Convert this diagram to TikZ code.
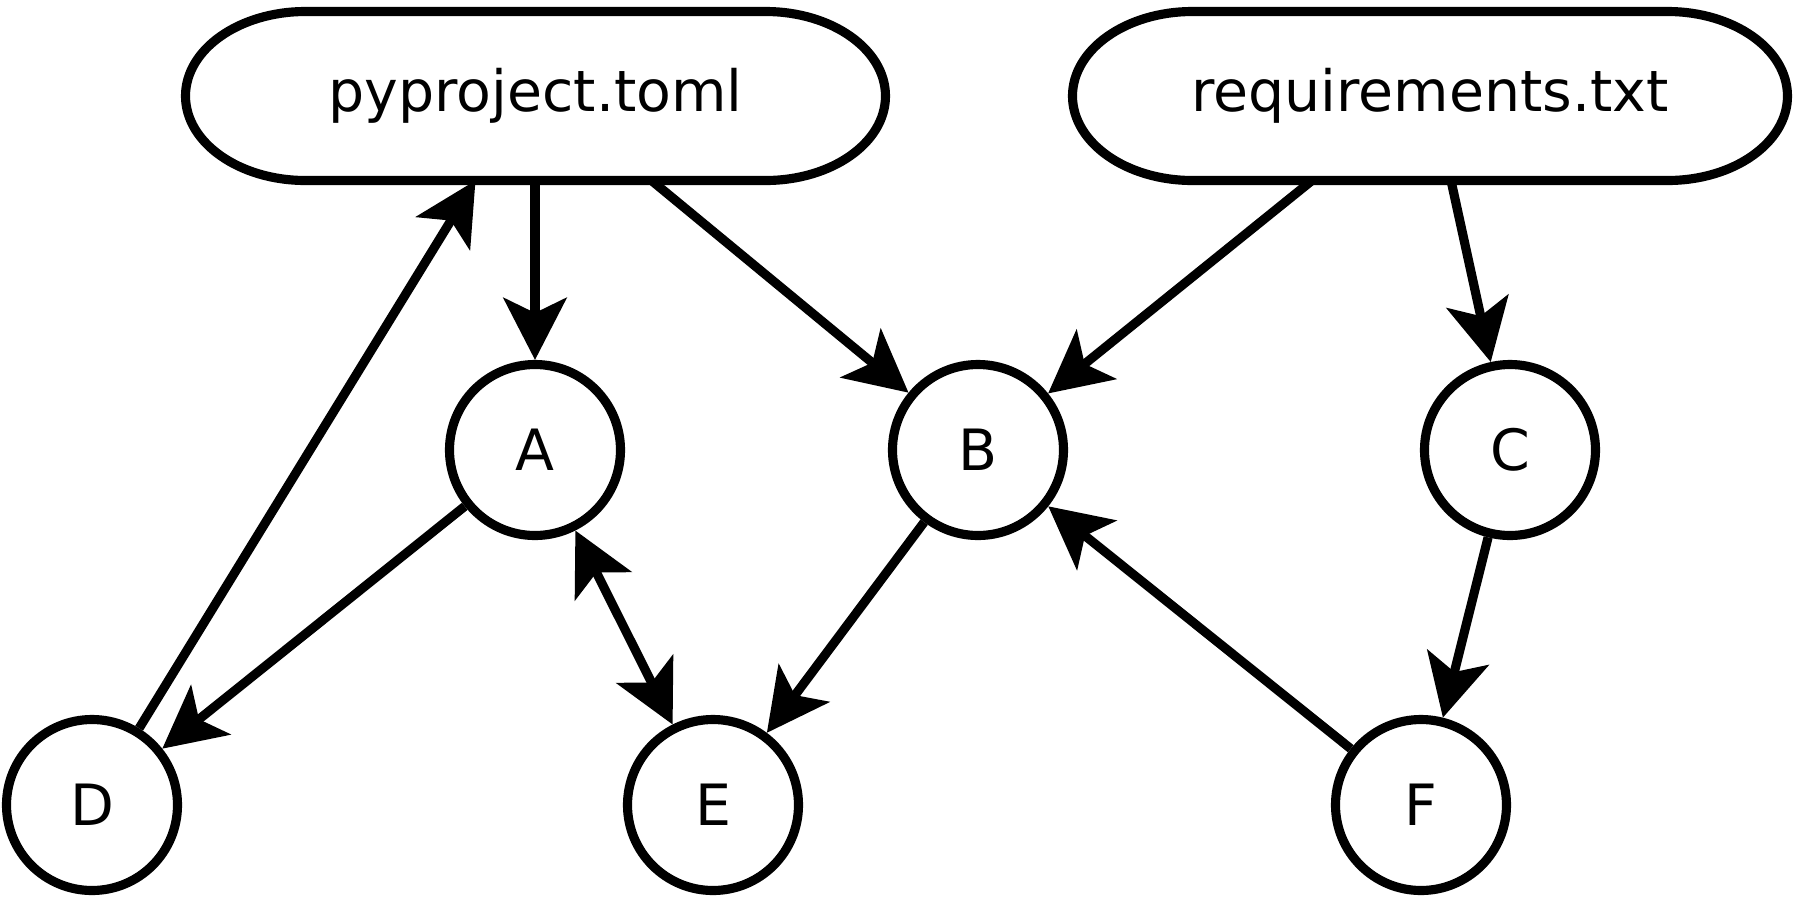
\documentclass[tikz,border=0pt]{standalone}
\usepackage{fontspec}
\setmainfont{DejaVu Sans}
\usetikzlibrary{arrows.meta}

\tikzset{
  dep/.style={circle, draw, line width=2.6pt, minimum size=1.71cm, inner sep=0pt},
  file/.style={minimum width=7.0cm, minimum height=1.69cm, inner sep=0pt, outer sep=0pt},
  link/.style={line width=2.6pt, ->},
}

\begin{document}
\begin{tikzpicture}[font=\fontsize{16.2}{19}\selectfont,
  >={Stealth[length=0.62cm,width=0.63cm,inset=0.15cm]}]
\useasboundingbox (0,0) rectangle (18,-9);
% input files
\node[file] (py) at (5.355,-0.96) {pyproject.toml};
\node[file, minimum width=7.15cm] (req) at (14.3,-0.96) {requirements.txt};
\foreach \f in {py,req}
  \draw[line width=2.6pt] ([xshift=1.2cm]\f.north west) -- ([xshift=-1.2cm]\f.north east)
    arc[start angle=90,end angle=-90,x radius=1.2cm,y radius=0.845cm]
    -- ([xshift=1.2cm]\f.south west)
    arc[start angle=270,end angle=90,x radius=1.2cm,y radius=0.845cm] -- cycle;
% packages
\node[dep] (A) at (5.35,-4.5) {A};
\node[dep] (B) at (9.78,-4.5) {B};
\node[dep] (C) at (15.1,-4.5) {C};
\node[dep] (D) at (0.92,-8.05) {D};
\node[dep] (E) at (7.13,-8.05) {E};
\node[dep] (F) at (14.21,-8.05) {F};
% dependencies
\draw[link] (py.south -| A) -- (A);
\draw[link] ([xshift=1.16cm]py.south) -- (B);
\draw[link] (D) -- ([xshift=-0.6cm]py.south);
\draw[link] (A) -- (D);
\draw[link,<->] (A) -- (E);
\draw[link] (B) -- (E);
\draw[link] ([xshift=-1.18cm]req.south) -- (B);
\draw[link] ([xshift=0.21cm]req.south) -- (C);
\draw[link] (C) -- (F);
\draw[link] (F) -- (B);
\end{tikzpicture}
\end{document}
